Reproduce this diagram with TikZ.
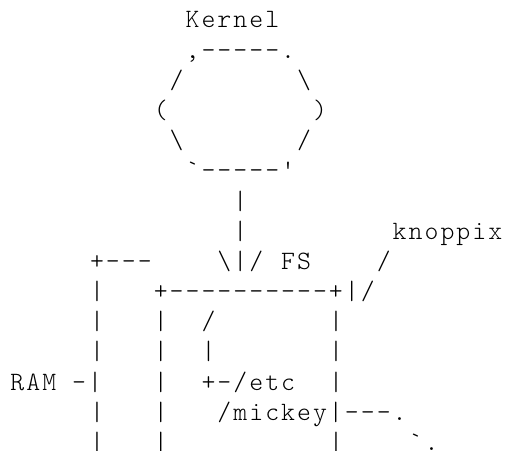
\documentclass[tikz,border=0pt]{standalone}
\usepackage{fontspec}
\setmonofont{Latin Modern Mono Light}[LetterSpace=7.6]
\tikzset{
  glyphs/.style={anchor=base west, inner sep=0pt, outer sep=0pt,
    font=\ttfamily\fontsize{26.5}{26.5}\selectfont}
}
% place a run of characters at text column #2, text row #3
\newcommand\cell[4]{\node[glyphs] (#1) at ({10.4+#2*15.93},{422-#3*30.17}) {#4};}
\begin{document}
\begin{tikzpicture}[x=1pt,y=1pt]
\useasboundingbox (0,0) rectangle (505,450);
% the kernel hexagon
\cell{title}{11}{0}{Kernel}
\cell{hexTop}{11}{1}{,-----.}
\cell{hexUL}{10}{2}{/}
\cell{hexUR}{18}{2}{\textbackslash}
\cell{hexL}{9}{3}{(}
\cell{hexR}{19}{3}{)}
\cell{hexLL}{10}{4}{\textbackslash}
\cell{hexLR}{18}{4}{/}
\cell{hexBot}{11}{5}{`-----'}
% stem down to the file system
\cell{stemA}{14}{6}{|}
\cell{stemB}{14}{7}{|}
\cell{knoppix}{24}{7}{knoppix}
\cell{ramTop}{5}{8}{+---}
\cell{arrow}{13}{8}{\textbackslash|/}
\cell{fs}{17}{8}{FS}
\cell{knopA}{23}{8}{/}
% file system box inside RAM
\cell{ramA}{5}{9}{|}
\cell{fsTop}{9}{9}{+----------+|/}
\cell{ramB}{5}{10}{|}
\cell{fsLA}{9}{10}{|}
\cell{root}{12}{10}{/}
\cell{fsRA}{20}{10}{|}
\cell{ramC}{5}{11}{|}
\cell{fsLB}{9}{11}{|}
\cell{treeA}{12}{11}{|}
\cell{fsRB}{20}{11}{|}
\cell{ram}{0}{12}{RAM -|}
\cell{fsLC}{9}{12}{|}
\cell{etc}{12}{12}{+-/etc}
\cell{fsRC}{20}{12}{|}
\cell{ramD}{5}{13}{|}
\cell{fsLD}{9}{13}{|}
\cell{mickey}{13}{13}{/mickey|---.}
\cell{ramE}{5}{14}{|}
\cell{fsLE}{9}{14}{|}
\cell{fsRE}{20}{14}{|}
\cell{tail}{25}{14}{`.}
\end{tikzpicture}
\end{document}
